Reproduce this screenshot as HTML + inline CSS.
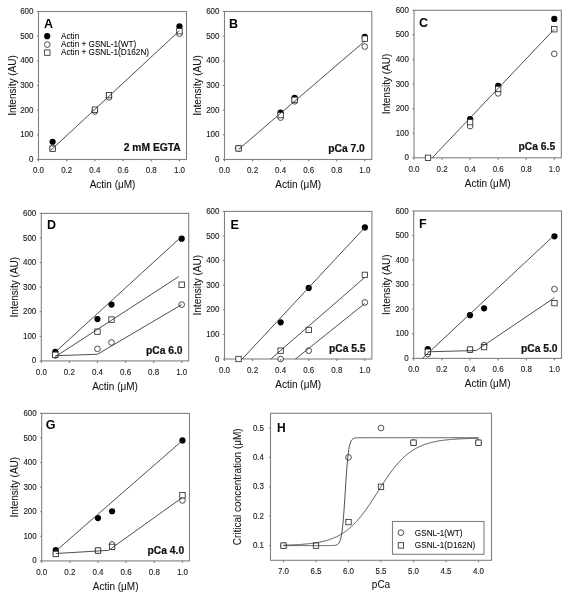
<!DOCTYPE html>
<html><head><meta charset="utf-8"><style>
html,body{margin:0;padding:0;background:#fff;}
svg{display:block;font-family:"Liberation Sans", sans-serif;will-change:transform;}
</style></head><body>
<svg width="569" height="600" viewBox="0 0 569 600">
<rect width="569" height="600" fill="#fff"/>
<rect x="38.5" y="11.5" width="148" height="148" fill="none" stroke="#808080" stroke-width="1.1"/>
<circle cx="52.6" cy="141.74" r="3.1" fill="#000"/>
<circle cx="94.88" cy="110.17" r="3.1" fill="#000"/>
<circle cx="108.98" cy="95.86" r="3.1" fill="#000"/>
<circle cx="179.45" cy="26.3" r="3.1" fill="#000"/>
<circle cx="52.6" cy="148.4" r="2.85" fill="#fff" stroke="#222" stroke-width="0.8"/>
<circle cx="94.88" cy="111.4" r="2.85" fill="#fff" stroke="#222" stroke-width="0.8"/>
<circle cx="108.98" cy="97.34" r="2.85" fill="#fff" stroke="#222" stroke-width="0.8"/>
<circle cx="179.45" cy="33.7" r="2.85" fill="#fff" stroke="#222" stroke-width="0.8"/>
<rect x="49.9" y="145.95" width="5.4" height="5.4" fill="#fff" stroke="#222" stroke-width="0.8"/>
<rect x="92.18" y="106.97" width="5.4" height="5.4" fill="#fff" stroke="#222" stroke-width="0.8"/>
<rect x="106.28" y="92.42" width="5.4" height="5.4" fill="#fff" stroke="#222" stroke-width="0.8"/>
<rect x="176.75" y="28.53" width="5.4" height="5.4" fill="#fff" stroke="#222" stroke-width="0.8"/>
<polyline points="50.48,150.62 179.45,30.74" fill="none" stroke="#3a3a3a" stroke-width="0.9"/>
<line x1="38.5" y1="159.5" x2="38.5" y2="161.5" stroke="#808080" stroke-width="1.1"/>
<text transform="translate(38.5 173.4) scale(0.94 1.0)" font-size="8.5" text-anchor="middle" fill="#1a1a1a" stroke="#1a1a1a" stroke-width="0.12">0.0</text>
<line x1="66.69" y1="159.5" x2="66.69" y2="161.5" stroke="#808080" stroke-width="1.1"/>
<text transform="translate(66.69 173.4) scale(0.94 1.0)" font-size="8.5" text-anchor="middle" fill="#1a1a1a" stroke="#1a1a1a" stroke-width="0.12">0.2</text>
<line x1="94.88" y1="159.5" x2="94.88" y2="161.5" stroke="#808080" stroke-width="1.1"/>
<text transform="translate(94.88 173.4) scale(0.94 1.0)" font-size="8.5" text-anchor="middle" fill="#1a1a1a" stroke="#1a1a1a" stroke-width="0.12">0.4</text>
<line x1="123.07" y1="159.5" x2="123.07" y2="161.5" stroke="#808080" stroke-width="1.1"/>
<text transform="translate(123.07 173.4) scale(0.94 1.0)" font-size="8.5" text-anchor="middle" fill="#1a1a1a" stroke="#1a1a1a" stroke-width="0.12">0.6</text>
<line x1="151.26" y1="159.5" x2="151.26" y2="161.5" stroke="#808080" stroke-width="1.1"/>
<text transform="translate(151.26 173.4) scale(0.94 1.0)" font-size="8.5" text-anchor="middle" fill="#1a1a1a" stroke="#1a1a1a" stroke-width="0.12">0.8</text>
<line x1="179.45" y1="159.5" x2="179.45" y2="161.5" stroke="#808080" stroke-width="1.1"/>
<text transform="translate(179.45 173.4) scale(0.94 1.0)" font-size="8.5" text-anchor="middle" fill="#1a1a1a" stroke="#1a1a1a" stroke-width="0.12">1.0</text>
<line x1="36.9" y1="159.5" x2="38.5" y2="159.5" stroke="#808080" stroke-width="1.1"/>
<text transform="translate(33.5 162.04) scale(0.94 1.0)" font-size="8.5" text-anchor="end" fill="#1a1a1a" stroke="#1a1a1a" stroke-width="0.12">0</text>
<line x1="36.9" y1="134.83" x2="38.5" y2="134.83" stroke="#808080" stroke-width="1.1"/>
<text transform="translate(33.5 137.38) scale(0.94 1.0)" font-size="8.5" text-anchor="end" fill="#1a1a1a" stroke="#1a1a1a" stroke-width="0.12">100</text>
<line x1="36.9" y1="110.17" x2="38.5" y2="110.17" stroke="#808080" stroke-width="1.1"/>
<text transform="translate(33.5 112.71) scale(0.94 1.0)" font-size="8.5" text-anchor="end" fill="#1a1a1a" stroke="#1a1a1a" stroke-width="0.12">200</text>
<line x1="36.9" y1="85.5" x2="38.5" y2="85.5" stroke="#808080" stroke-width="1.1"/>
<text transform="translate(33.5 88.04) scale(0.94 1.0)" font-size="8.5" text-anchor="end" fill="#1a1a1a" stroke="#1a1a1a" stroke-width="0.12">300</text>
<line x1="36.9" y1="60.83" x2="38.5" y2="60.83" stroke="#808080" stroke-width="1.1"/>
<text transform="translate(33.5 63.38) scale(0.94 1.0)" font-size="8.5" text-anchor="end" fill="#1a1a1a" stroke="#1a1a1a" stroke-width="0.12">400</text>
<line x1="36.9" y1="36.17" x2="38.5" y2="36.17" stroke="#808080" stroke-width="1.1"/>
<text transform="translate(33.5 38.71) scale(0.94 1.0)" font-size="8.5" text-anchor="end" fill="#1a1a1a" stroke="#1a1a1a" stroke-width="0.12">500</text>
<line x1="36.9" y1="11.5" x2="38.5" y2="11.5" stroke="#808080" stroke-width="1.1"/>
<text transform="translate(33.5 14.04) scale(0.94 1.0)" font-size="8.5" text-anchor="end" fill="#1a1a1a" stroke="#1a1a1a" stroke-width="0.12">600</text>
<text transform="translate(112.5 188.3)" font-size="10" text-anchor="middle" fill="#111" stroke="#111" stroke-width="0.05">Actin (&#956;M)</text>
<text transform="translate(15.5 85.5) rotate(-90)" font-size="10" text-anchor="middle" fill="#111" stroke="#111" stroke-width="0.05">Intensity (AU)</text>
<text transform="translate(44.1 28.3)" font-size="12.5" font-weight="bold" fill="#000">A</text>
<circle cx="47.2" cy="36.2" r="3.1" fill="#000"/>
<circle cx="47.3" cy="44.6" r="2.85" fill="#fff" stroke="#222" stroke-width="0.8"/>
<rect x="44.6" y="49.9" width="5.4" height="5.4" fill="#fff" stroke="#222" stroke-width="0.8"/>
<text x="61" y="38.9" font-size="8.2" fill="#111" stroke="#111" stroke-width="0.1">Actin</text>
<text x="61" y="47.1" font-size="8.2" fill="#111" stroke="#111" stroke-width="0.1">Actin + GSNL-1(WT)</text>
<text x="61" y="55.3" font-size="8.2" fill="#111" stroke="#111" stroke-width="0.1">Actin + GSNL-1(D162N)</text>
<text transform="translate(180.8 150.9)" font-size="10.3" text-anchor="end" font-weight="bold" fill="#111" stroke="#111" stroke-width="0.2">2 mM EGTA</text>
<rect x="224.5" y="11.5" width="147.3" height="148" fill="none" stroke="#808080" stroke-width="1.1"/>
<circle cx="238.53" cy="148.15" r="3.1" fill="#000"/>
<circle cx="280.61" cy="112.63" r="3.1" fill="#000"/>
<circle cx="294.64" cy="97.83" r="3.1" fill="#000"/>
<circle cx="364.79" cy="36.91" r="3.1" fill="#000"/>
<circle cx="238.53" cy="148.4" r="2.85" fill="#fff" stroke="#222" stroke-width="0.8"/>
<circle cx="280.61" cy="117.57" r="2.85" fill="#fff" stroke="#222" stroke-width="0.8"/>
<circle cx="294.64" cy="101.29" r="2.85" fill="#fff" stroke="#222" stroke-width="0.8"/>
<circle cx="364.79" cy="46.53" r="2.85" fill="#fff" stroke="#222" stroke-width="0.8"/>
<rect x="235.83" y="145.7" width="5.4" height="5.4" fill="#fff" stroke="#222" stroke-width="0.8"/>
<rect x="277.91" y="112.4" width="5.4" height="5.4" fill="#fff" stroke="#222" stroke-width="0.8"/>
<rect x="291.94" y="97.11" width="5.4" height="5.4" fill="#fff" stroke="#222" stroke-width="0.8"/>
<rect x="362.09" y="35.93" width="5.4" height="5.4" fill="#fff" stroke="#222" stroke-width="0.8"/>
<polyline points="238.53,149.39 364.79,41.1" fill="none" stroke="#3a3a3a" stroke-width="0.9"/>
<line x1="224.5" y1="159.5" x2="224.5" y2="161.5" stroke="#808080" stroke-width="1.1"/>
<text transform="translate(224.5 173.4) scale(0.94 1.0)" font-size="8.5" text-anchor="middle" fill="#1a1a1a" stroke="#1a1a1a" stroke-width="0.12">0.0</text>
<line x1="252.56" y1="159.5" x2="252.56" y2="161.5" stroke="#808080" stroke-width="1.1"/>
<text transform="translate(252.56 173.4) scale(0.94 1.0)" font-size="8.5" text-anchor="middle" fill="#1a1a1a" stroke="#1a1a1a" stroke-width="0.12">0.2</text>
<line x1="280.61" y1="159.5" x2="280.61" y2="161.5" stroke="#808080" stroke-width="1.1"/>
<text transform="translate(280.61 173.4) scale(0.94 1.0)" font-size="8.5" text-anchor="middle" fill="#1a1a1a" stroke="#1a1a1a" stroke-width="0.12">0.4</text>
<line x1="308.67" y1="159.5" x2="308.67" y2="161.5" stroke="#808080" stroke-width="1.1"/>
<text transform="translate(308.67 173.4) scale(0.94 1.0)" font-size="8.5" text-anchor="middle" fill="#1a1a1a" stroke="#1a1a1a" stroke-width="0.12">0.6</text>
<line x1="336.73" y1="159.5" x2="336.73" y2="161.5" stroke="#808080" stroke-width="1.1"/>
<text transform="translate(336.73 173.4) scale(0.94 1.0)" font-size="8.5" text-anchor="middle" fill="#1a1a1a" stroke="#1a1a1a" stroke-width="0.12">0.8</text>
<line x1="364.79" y1="159.5" x2="364.79" y2="161.5" stroke="#808080" stroke-width="1.1"/>
<text transform="translate(364.79 173.4) scale(0.94 1.0)" font-size="8.5" text-anchor="middle" fill="#1a1a1a" stroke="#1a1a1a" stroke-width="0.12">1.0</text>
<line x1="222.9" y1="159.5" x2="224.5" y2="159.5" stroke="#808080" stroke-width="1.1"/>
<text transform="translate(219.5 162.04) scale(0.94 1.0)" font-size="8.5" text-anchor="end" fill="#1a1a1a" stroke="#1a1a1a" stroke-width="0.12">0</text>
<line x1="222.9" y1="134.83" x2="224.5" y2="134.83" stroke="#808080" stroke-width="1.1"/>
<text transform="translate(219.5 137.38) scale(0.94 1.0)" font-size="8.5" text-anchor="end" fill="#1a1a1a" stroke="#1a1a1a" stroke-width="0.12">100</text>
<line x1="222.9" y1="110.17" x2="224.5" y2="110.17" stroke="#808080" stroke-width="1.1"/>
<text transform="translate(219.5 112.71) scale(0.94 1.0)" font-size="8.5" text-anchor="end" fill="#1a1a1a" stroke="#1a1a1a" stroke-width="0.12">200</text>
<line x1="222.9" y1="85.5" x2="224.5" y2="85.5" stroke="#808080" stroke-width="1.1"/>
<text transform="translate(219.5 88.04) scale(0.94 1.0)" font-size="8.5" text-anchor="end" fill="#1a1a1a" stroke="#1a1a1a" stroke-width="0.12">300</text>
<line x1="222.9" y1="60.83" x2="224.5" y2="60.83" stroke="#808080" stroke-width="1.1"/>
<text transform="translate(219.5 63.38) scale(0.94 1.0)" font-size="8.5" text-anchor="end" fill="#1a1a1a" stroke="#1a1a1a" stroke-width="0.12">400</text>
<line x1="222.9" y1="36.17" x2="224.5" y2="36.17" stroke="#808080" stroke-width="1.1"/>
<text transform="translate(219.5 38.71) scale(0.94 1.0)" font-size="8.5" text-anchor="end" fill="#1a1a1a" stroke="#1a1a1a" stroke-width="0.12">500</text>
<line x1="222.9" y1="11.5" x2="224.5" y2="11.5" stroke="#808080" stroke-width="1.1"/>
<text transform="translate(219.5 14.04) scale(0.94 1.0)" font-size="8.5" text-anchor="end" fill="#1a1a1a" stroke="#1a1a1a" stroke-width="0.12">600</text>
<text transform="translate(298.15 188.3)" font-size="10" text-anchor="middle" fill="#111" stroke="#111" stroke-width="0.05">Actin (&#956;M)</text>
<text transform="translate(200.7 85.5) rotate(-90)" font-size="10" text-anchor="middle" fill="#111" stroke="#111" stroke-width="0.05">Intensity (AU)</text>
<text transform="translate(229.1 27.6)" font-size="12.5" font-weight="bold" fill="#000">B</text>
<text transform="translate(364.8 152.4)" font-size="10.3" text-anchor="end" font-weight="bold" fill="#111" stroke="#111" stroke-width="0.2">pCa 7.0</text>
<rect x="414" y="10.3" width="147.3" height="147.5" fill="none" stroke="#808080" stroke-width="1.1"/>
<circle cx="470.11" cy="119.2" r="3.1" fill="#000"/>
<circle cx="498.17" cy="85.77" r="3.1" fill="#000"/>
<circle cx="554.29" cy="18.9" r="3.1" fill="#000"/>
<circle cx="470.11" cy="126.09" r="2.85" fill="#fff" stroke="#222" stroke-width="0.8"/>
<circle cx="498.17" cy="93.39" r="2.85" fill="#fff" stroke="#222" stroke-width="0.8"/>
<circle cx="554.29" cy="53.81" r="2.85" fill="#fff" stroke="#222" stroke-width="0.8"/>
<rect x="425.33" y="155.1" width="5.4" height="5.4" fill="#fff" stroke="#222" stroke-width="0.8"/>
<rect x="467.41" y="119.45" width="5.4" height="5.4" fill="#fff" stroke="#222" stroke-width="0.8"/>
<rect x="495.47" y="86.27" width="5.4" height="5.4" fill="#fff" stroke="#222" stroke-width="0.8"/>
<rect x="551.59" y="26.53" width="5.4" height="5.4" fill="#fff" stroke="#222" stroke-width="0.8"/>
<polyline points="432.24,157.8 554.29,29.23" fill="none" stroke="#3a3a3a" stroke-width="0.9"/>
<line x1="414" y1="157.8" x2="414" y2="159.8" stroke="#808080" stroke-width="1.1"/>
<text transform="translate(414 171.7) scale(0.94 1.0)" font-size="8.5" text-anchor="middle" fill="#1a1a1a" stroke="#1a1a1a" stroke-width="0.12">0.0</text>
<line x1="442.06" y1="157.8" x2="442.06" y2="159.8" stroke="#808080" stroke-width="1.1"/>
<text transform="translate(442.06 171.7) scale(0.94 1.0)" font-size="8.5" text-anchor="middle" fill="#1a1a1a" stroke="#1a1a1a" stroke-width="0.12">0.2</text>
<line x1="470.11" y1="157.8" x2="470.11" y2="159.8" stroke="#808080" stroke-width="1.1"/>
<text transform="translate(470.11 171.7) scale(0.94 1.0)" font-size="8.5" text-anchor="middle" fill="#1a1a1a" stroke="#1a1a1a" stroke-width="0.12">0.4</text>
<line x1="498.17" y1="157.8" x2="498.17" y2="159.8" stroke="#808080" stroke-width="1.1"/>
<text transform="translate(498.17 171.7) scale(0.94 1.0)" font-size="8.5" text-anchor="middle" fill="#1a1a1a" stroke="#1a1a1a" stroke-width="0.12">0.6</text>
<line x1="526.23" y1="157.8" x2="526.23" y2="159.8" stroke="#808080" stroke-width="1.1"/>
<text transform="translate(526.23 171.7) scale(0.94 1.0)" font-size="8.5" text-anchor="middle" fill="#1a1a1a" stroke="#1a1a1a" stroke-width="0.12">0.8</text>
<line x1="554.29" y1="157.8" x2="554.29" y2="159.8" stroke="#808080" stroke-width="1.1"/>
<text transform="translate(554.29 171.7) scale(0.94 1.0)" font-size="8.5" text-anchor="middle" fill="#1a1a1a" stroke="#1a1a1a" stroke-width="0.12">1.0</text>
<line x1="412.4" y1="157.8" x2="414" y2="157.8" stroke="#808080" stroke-width="1.1"/>
<text transform="translate(409 160.34) scale(0.94 1.0)" font-size="8.5" text-anchor="end" fill="#1a1a1a" stroke="#1a1a1a" stroke-width="0.12">0</text>
<line x1="412.4" y1="133.22" x2="414" y2="133.22" stroke="#808080" stroke-width="1.1"/>
<text transform="translate(409 135.76) scale(0.94 1.0)" font-size="8.5" text-anchor="end" fill="#1a1a1a" stroke="#1a1a1a" stroke-width="0.12">100</text>
<line x1="412.4" y1="108.63" x2="414" y2="108.63" stroke="#808080" stroke-width="1.1"/>
<text transform="translate(409 111.18) scale(0.94 1.0)" font-size="8.5" text-anchor="end" fill="#1a1a1a" stroke="#1a1a1a" stroke-width="0.12">200</text>
<line x1="412.4" y1="84.05" x2="414" y2="84.05" stroke="#808080" stroke-width="1.1"/>
<text transform="translate(409 86.59) scale(0.94 1.0)" font-size="8.5" text-anchor="end" fill="#1a1a1a" stroke="#1a1a1a" stroke-width="0.12">300</text>
<line x1="412.4" y1="59.47" x2="414" y2="59.47" stroke="#808080" stroke-width="1.1"/>
<text transform="translate(409 62.01) scale(0.94 1.0)" font-size="8.5" text-anchor="end" fill="#1a1a1a" stroke="#1a1a1a" stroke-width="0.12">400</text>
<line x1="412.4" y1="34.88" x2="414" y2="34.88" stroke="#808080" stroke-width="1.1"/>
<text transform="translate(409 37.43) scale(0.94 1.0)" font-size="8.5" text-anchor="end" fill="#1a1a1a" stroke="#1a1a1a" stroke-width="0.12">500</text>
<line x1="412.4" y1="10.3" x2="414" y2="10.3" stroke="#808080" stroke-width="1.1"/>
<text transform="translate(409 12.84) scale(0.94 1.0)" font-size="8.5" text-anchor="end" fill="#1a1a1a" stroke="#1a1a1a" stroke-width="0.12">600</text>
<text transform="translate(487.65 186.6)" font-size="10" text-anchor="middle" fill="#111" stroke="#111" stroke-width="0.05">Actin (&#956;M)</text>
<text transform="translate(389.5 84.05) rotate(-90)" font-size="10" text-anchor="middle" fill="#111" stroke="#111" stroke-width="0.05">Intensity (AU)</text>
<text transform="translate(419.1 27.4)" font-size="12.5" font-weight="bold" fill="#000">C</text>
<text transform="translate(555.2 149.9)" font-size="10.3" text-anchor="end" font-weight="bold" fill="#111" stroke="#111" stroke-width="0.2">pCa 6.5</text>
<rect x="41.3" y="213.4" width="147.4" height="147.5" fill="none" stroke="#808080" stroke-width="1.1"/>
<circle cx="55.34" cy="351.8" r="3.1" fill="#000"/>
<circle cx="97.45" cy="319.11" r="3.1" fill="#000"/>
<circle cx="111.49" cy="304.6" r="3.1" fill="#000"/>
<circle cx="181.68" cy="238.72" r="3.1" fill="#000"/>
<circle cx="55.34" cy="355.49" r="2.85" fill="#fff" stroke="#222" stroke-width="0.8"/>
<circle cx="97.45" cy="348.85" r="2.85" fill="#fff" stroke="#222" stroke-width="0.8"/>
<circle cx="111.49" cy="342.46" r="2.85" fill="#fff" stroke="#222" stroke-width="0.8"/>
<circle cx="181.68" cy="304.6" r="2.85" fill="#fff" stroke="#222" stroke-width="0.8"/>
<rect x="52.64" y="352.05" width="5.4" height="5.4" fill="#fff" stroke="#222" stroke-width="0.8"/>
<rect x="94.75" y="328.95" width="5.4" height="5.4" fill="#fff" stroke="#222" stroke-width="0.8"/>
<rect x="108.79" y="316.9" width="5.4" height="5.4" fill="#fff" stroke="#222" stroke-width="0.8"/>
<rect x="178.98" y="281.99" width="5.4" height="5.4" fill="#fff" stroke="#222" stroke-width="0.8"/>
<polyline points="55.34,352.05 181.68,236.51" fill="none" stroke="#3a3a3a" stroke-width="0.9"/>
<polyline points="55.34,356.72 178.73,276.58" fill="none" stroke="#3a3a3a" stroke-width="0.9"/>
<polyline points="55.34,355.74 97.45,354.26 181.68,304.6" fill="none" stroke="#3a3a3a" stroke-width="0.9"/>
<line x1="41.3" y1="360.9" x2="41.3" y2="362.9" stroke="#808080" stroke-width="1.1"/>
<text transform="translate(41.3 374.8) scale(0.94 1.0)" font-size="8.5" text-anchor="middle" fill="#1a1a1a" stroke="#1a1a1a" stroke-width="0.12">0.0</text>
<line x1="69.38" y1="360.9" x2="69.38" y2="362.9" stroke="#808080" stroke-width="1.1"/>
<text transform="translate(69.38 374.8) scale(0.94 1.0)" font-size="8.5" text-anchor="middle" fill="#1a1a1a" stroke="#1a1a1a" stroke-width="0.12">0.2</text>
<line x1="97.45" y1="360.9" x2="97.45" y2="362.9" stroke="#808080" stroke-width="1.1"/>
<text transform="translate(97.45 374.8) scale(0.94 1.0)" font-size="8.5" text-anchor="middle" fill="#1a1a1a" stroke="#1a1a1a" stroke-width="0.12">0.4</text>
<line x1="125.53" y1="360.9" x2="125.53" y2="362.9" stroke="#808080" stroke-width="1.1"/>
<text transform="translate(125.53 374.8) scale(0.94 1.0)" font-size="8.5" text-anchor="middle" fill="#1a1a1a" stroke="#1a1a1a" stroke-width="0.12">0.6</text>
<line x1="153.6" y1="360.9" x2="153.6" y2="362.9" stroke="#808080" stroke-width="1.1"/>
<text transform="translate(153.6 374.8) scale(0.94 1.0)" font-size="8.5" text-anchor="middle" fill="#1a1a1a" stroke="#1a1a1a" stroke-width="0.12">0.8</text>
<line x1="181.68" y1="360.9" x2="181.68" y2="362.9" stroke="#808080" stroke-width="1.1"/>
<text transform="translate(181.68 374.8) scale(0.94 1.0)" font-size="8.5" text-anchor="middle" fill="#1a1a1a" stroke="#1a1a1a" stroke-width="0.12">1.0</text>
<line x1="39.7" y1="360.9" x2="41.3" y2="360.9" stroke="#808080" stroke-width="1.1"/>
<text transform="translate(36.3 363.44) scale(0.94 1.0)" font-size="8.5" text-anchor="end" fill="#1a1a1a" stroke="#1a1a1a" stroke-width="0.12">0</text>
<line x1="39.7" y1="336.32" x2="41.3" y2="336.32" stroke="#808080" stroke-width="1.1"/>
<text transform="translate(36.3 338.86) scale(0.94 1.0)" font-size="8.5" text-anchor="end" fill="#1a1a1a" stroke="#1a1a1a" stroke-width="0.12">100</text>
<line x1="39.7" y1="311.73" x2="41.3" y2="311.73" stroke="#808080" stroke-width="1.1"/>
<text transform="translate(36.3 314.28) scale(0.94 1.0)" font-size="8.5" text-anchor="end" fill="#1a1a1a" stroke="#1a1a1a" stroke-width="0.12">200</text>
<line x1="39.7" y1="287.15" x2="41.3" y2="287.15" stroke="#808080" stroke-width="1.1"/>
<text transform="translate(36.3 289.69) scale(0.94 1.0)" font-size="8.5" text-anchor="end" fill="#1a1a1a" stroke="#1a1a1a" stroke-width="0.12">300</text>
<line x1="39.7" y1="262.57" x2="41.3" y2="262.57" stroke="#808080" stroke-width="1.1"/>
<text transform="translate(36.3 265.11) scale(0.94 1.0)" font-size="8.5" text-anchor="end" fill="#1a1a1a" stroke="#1a1a1a" stroke-width="0.12">400</text>
<line x1="39.7" y1="237.98" x2="41.3" y2="237.98" stroke="#808080" stroke-width="1.1"/>
<text transform="translate(36.3 240.53) scale(0.94 1.0)" font-size="8.5" text-anchor="end" fill="#1a1a1a" stroke="#1a1a1a" stroke-width="0.12">500</text>
<line x1="39.7" y1="213.4" x2="41.3" y2="213.4" stroke="#808080" stroke-width="1.1"/>
<text transform="translate(36.3 215.94) scale(0.94 1.0)" font-size="8.5" text-anchor="end" fill="#1a1a1a" stroke="#1a1a1a" stroke-width="0.12">600</text>
<text transform="translate(115 389.7)" font-size="10" text-anchor="middle" fill="#111" stroke="#111" stroke-width="0.05">Actin (&#956;M)</text>
<text transform="translate(17.6 287.15) rotate(-90)" font-size="10" text-anchor="middle" fill="#111" stroke="#111" stroke-width="0.05">Intensity (AU)</text>
<text transform="translate(46.9 228.8)" font-size="12.5" font-weight="bold" fill="#000">D</text>
<text transform="translate(182.6 353.9)" font-size="10.3" text-anchor="end" font-weight="bold" fill="#111" stroke="#111" stroke-width="0.2">pCa 6.0</text>
<rect x="224.5" y="211.4" width="147.4" height="147.6" fill="none" stroke="#808080" stroke-width="1.1"/>
<circle cx="280.65" cy="322.35" r="3.1" fill="#000"/>
<circle cx="308.73" cy="287.91" r="3.1" fill="#000"/>
<circle cx="364.88" cy="227.39" r="3.1" fill="#000"/>
<circle cx="280.65" cy="359" r="2.85" fill="#fff" stroke="#222" stroke-width="0.8"/>
<circle cx="308.73" cy="350.64" r="2.85" fill="#fff" stroke="#222" stroke-width="0.8"/>
<circle cx="364.88" cy="302.42" r="2.85" fill="#fff" stroke="#222" stroke-width="0.8"/>
<rect x="235.84" y="356.3" width="5.4" height="5.4" fill="#fff" stroke="#222" stroke-width="0.8"/>
<rect x="277.95" y="347.94" width="5.4" height="5.4" fill="#fff" stroke="#222" stroke-width="0.8"/>
<rect x="306.03" y="327.27" width="5.4" height="5.4" fill="#fff" stroke="#222" stroke-width="0.8"/>
<rect x="362.18" y="272.17" width="5.4" height="5.4" fill="#fff" stroke="#222" stroke-width="0.8"/>
<polyline points="242.19,359 364.88,227.39" fill="none" stroke="#3a3a3a" stroke-width="0.9"/>
<polyline points="270.83,359 364.88,277.33" fill="none" stroke="#3a3a3a" stroke-width="0.9"/>
<polyline points="295.53,359 364.88,303.4" fill="none" stroke="#3a3a3a" stroke-width="0.9"/>
<line x1="224.5" y1="359" x2="224.5" y2="361" stroke="#808080" stroke-width="1.1"/>
<text transform="translate(224.5 372.9) scale(0.94 1.0)" font-size="8.5" text-anchor="middle" fill="#1a1a1a" stroke="#1a1a1a" stroke-width="0.12">0.0</text>
<line x1="252.58" y1="359" x2="252.58" y2="361" stroke="#808080" stroke-width="1.1"/>
<text transform="translate(252.58 372.9) scale(0.94 1.0)" font-size="8.5" text-anchor="middle" fill="#1a1a1a" stroke="#1a1a1a" stroke-width="0.12">0.2</text>
<line x1="280.65" y1="359" x2="280.65" y2="361" stroke="#808080" stroke-width="1.1"/>
<text transform="translate(280.65 372.9) scale(0.94 1.0)" font-size="8.5" text-anchor="middle" fill="#1a1a1a" stroke="#1a1a1a" stroke-width="0.12">0.4</text>
<line x1="308.73" y1="359" x2="308.73" y2="361" stroke="#808080" stroke-width="1.1"/>
<text transform="translate(308.73 372.9) scale(0.94 1.0)" font-size="8.5" text-anchor="middle" fill="#1a1a1a" stroke="#1a1a1a" stroke-width="0.12">0.6</text>
<line x1="336.8" y1="359" x2="336.8" y2="361" stroke="#808080" stroke-width="1.1"/>
<text transform="translate(336.8 372.9) scale(0.94 1.0)" font-size="8.5" text-anchor="middle" fill="#1a1a1a" stroke="#1a1a1a" stroke-width="0.12">0.8</text>
<line x1="364.88" y1="359" x2="364.88" y2="361" stroke="#808080" stroke-width="1.1"/>
<text transform="translate(364.88 372.9) scale(0.94 1.0)" font-size="8.5" text-anchor="middle" fill="#1a1a1a" stroke="#1a1a1a" stroke-width="0.12">1.0</text>
<line x1="222.9" y1="359" x2="224.5" y2="359" stroke="#808080" stroke-width="1.1"/>
<text transform="translate(219.5 361.54) scale(0.94 1.0)" font-size="8.5" text-anchor="end" fill="#1a1a1a" stroke="#1a1a1a" stroke-width="0.12">0</text>
<line x1="222.9" y1="334.4" x2="224.5" y2="334.4" stroke="#808080" stroke-width="1.1"/>
<text transform="translate(219.5 336.94) scale(0.94 1.0)" font-size="8.5" text-anchor="end" fill="#1a1a1a" stroke="#1a1a1a" stroke-width="0.12">100</text>
<line x1="222.9" y1="309.8" x2="224.5" y2="309.8" stroke="#808080" stroke-width="1.1"/>
<text transform="translate(219.5 312.34) scale(0.94 1.0)" font-size="8.5" text-anchor="end" fill="#1a1a1a" stroke="#1a1a1a" stroke-width="0.12">200</text>
<line x1="222.9" y1="285.2" x2="224.5" y2="285.2" stroke="#808080" stroke-width="1.1"/>
<text transform="translate(219.5 287.74) scale(0.94 1.0)" font-size="8.5" text-anchor="end" fill="#1a1a1a" stroke="#1a1a1a" stroke-width="0.12">300</text>
<line x1="222.9" y1="260.6" x2="224.5" y2="260.6" stroke="#808080" stroke-width="1.1"/>
<text transform="translate(219.5 263.14) scale(0.94 1.0)" font-size="8.5" text-anchor="end" fill="#1a1a1a" stroke="#1a1a1a" stroke-width="0.12">400</text>
<line x1="222.9" y1="236" x2="224.5" y2="236" stroke="#808080" stroke-width="1.1"/>
<text transform="translate(219.5 238.54) scale(0.94 1.0)" font-size="8.5" text-anchor="end" fill="#1a1a1a" stroke="#1a1a1a" stroke-width="0.12">500</text>
<line x1="222.9" y1="211.4" x2="224.5" y2="211.4" stroke="#808080" stroke-width="1.1"/>
<text transform="translate(219.5 213.94) scale(0.94 1.0)" font-size="8.5" text-anchor="end" fill="#1a1a1a" stroke="#1a1a1a" stroke-width="0.12">600</text>
<text transform="translate(298.2 387.8)" font-size="10" text-anchor="middle" fill="#111" stroke="#111" stroke-width="0.05">Actin (&#956;M)</text>
<text transform="translate(200.8 285.2) rotate(-90)" font-size="10" text-anchor="middle" fill="#111" stroke="#111" stroke-width="0.05">Intensity (AU)</text>
<text transform="translate(230.6 228.5)" font-size="12.5" font-weight="bold" fill="#000">E</text>
<text transform="translate(365.6 351.8)" font-size="10.3" text-anchor="end" font-weight="bold" fill="#111" stroke="#111" stroke-width="0.2">pCa 5.5</text>
<rect x="413.7" y="211" width="147.8" height="147.4" fill="none" stroke="#808080" stroke-width="1.1"/>
<circle cx="427.78" cy="349.06" r="3.1" fill="#000"/>
<circle cx="470" cy="315.16" r="3.1" fill="#000"/>
<circle cx="484.08" cy="308.28" r="3.1" fill="#000"/>
<circle cx="554.46" cy="236.3" r="3.1" fill="#000"/>
<circle cx="427.78" cy="353.98" r="2.85" fill="#fff" stroke="#222" stroke-width="0.8"/>
<circle cx="470" cy="349.8" r="2.85" fill="#fff" stroke="#222" stroke-width="0.8"/>
<circle cx="484.08" cy="345.13" r="2.85" fill="#fff" stroke="#222" stroke-width="0.8"/>
<circle cx="554.46" cy="289.12" r="2.85" fill="#fff" stroke="#222" stroke-width="0.8"/>
<rect x="425.08" y="349.07" width="5.4" height="5.4" fill="#fff" stroke="#222" stroke-width="0.8"/>
<rect x="467.3" y="346.86" width="5.4" height="5.4" fill="#fff" stroke="#222" stroke-width="0.8"/>
<rect x="481.38" y="344.4" width="5.4" height="5.4" fill="#fff" stroke="#222" stroke-width="0.8"/>
<rect x="551.76" y="300.43" width="5.4" height="5.4" fill="#fff" stroke="#222" stroke-width="0.8"/>
<polyline points="422.43,358.4 554.46,235.08" fill="none" stroke="#3a3a3a" stroke-width="0.9"/>
<polyline points="427.78,351.77 476.2,350.54 554.46,297.72" fill="none" stroke="#3a3a3a" stroke-width="0.9"/>
<line x1="413.7" y1="358.4" x2="413.7" y2="360.4" stroke="#808080" stroke-width="1.1"/>
<text transform="translate(413.7 372.3) scale(0.94 1.0)" font-size="8.5" text-anchor="middle" fill="#1a1a1a" stroke="#1a1a1a" stroke-width="0.12">0.0</text>
<line x1="441.85" y1="358.4" x2="441.85" y2="360.4" stroke="#808080" stroke-width="1.1"/>
<text transform="translate(441.85 372.3) scale(0.94 1.0)" font-size="8.5" text-anchor="middle" fill="#1a1a1a" stroke="#1a1a1a" stroke-width="0.12">0.2</text>
<line x1="470" y1="358.4" x2="470" y2="360.4" stroke="#808080" stroke-width="1.1"/>
<text transform="translate(470 372.3) scale(0.94 1.0)" font-size="8.5" text-anchor="middle" fill="#1a1a1a" stroke="#1a1a1a" stroke-width="0.12">0.4</text>
<line x1="498.16" y1="358.4" x2="498.16" y2="360.4" stroke="#808080" stroke-width="1.1"/>
<text transform="translate(498.16 372.3) scale(0.94 1.0)" font-size="8.5" text-anchor="middle" fill="#1a1a1a" stroke="#1a1a1a" stroke-width="0.12">0.6</text>
<line x1="526.31" y1="358.4" x2="526.31" y2="360.4" stroke="#808080" stroke-width="1.1"/>
<text transform="translate(526.31 372.3) scale(0.94 1.0)" font-size="8.5" text-anchor="middle" fill="#1a1a1a" stroke="#1a1a1a" stroke-width="0.12">0.8</text>
<line x1="554.46" y1="358.4" x2="554.46" y2="360.4" stroke="#808080" stroke-width="1.1"/>
<text transform="translate(554.46 372.3) scale(0.94 1.0)" font-size="8.5" text-anchor="middle" fill="#1a1a1a" stroke="#1a1a1a" stroke-width="0.12">1.0</text>
<line x1="412.1" y1="358.4" x2="413.7" y2="358.4" stroke="#808080" stroke-width="1.1"/>
<text transform="translate(408.7 360.94) scale(0.94 1.0)" font-size="8.5" text-anchor="end" fill="#1a1a1a" stroke="#1a1a1a" stroke-width="0.12">0</text>
<line x1="412.1" y1="333.83" x2="413.7" y2="333.83" stroke="#808080" stroke-width="1.1"/>
<text transform="translate(408.7 336.38) scale(0.94 1.0)" font-size="8.5" text-anchor="end" fill="#1a1a1a" stroke="#1a1a1a" stroke-width="0.12">100</text>
<line x1="412.1" y1="309.27" x2="413.7" y2="309.27" stroke="#808080" stroke-width="1.1"/>
<text transform="translate(408.7 311.81) scale(0.94 1.0)" font-size="8.5" text-anchor="end" fill="#1a1a1a" stroke="#1a1a1a" stroke-width="0.12">200</text>
<line x1="412.1" y1="284.7" x2="413.7" y2="284.7" stroke="#808080" stroke-width="1.1"/>
<text transform="translate(408.7 287.24) scale(0.94 1.0)" font-size="8.5" text-anchor="end" fill="#1a1a1a" stroke="#1a1a1a" stroke-width="0.12">300</text>
<line x1="412.1" y1="260.13" x2="413.7" y2="260.13" stroke="#808080" stroke-width="1.1"/>
<text transform="translate(408.7 262.68) scale(0.94 1.0)" font-size="8.5" text-anchor="end" fill="#1a1a1a" stroke="#1a1a1a" stroke-width="0.12">400</text>
<line x1="412.1" y1="235.57" x2="413.7" y2="235.57" stroke="#808080" stroke-width="1.1"/>
<text transform="translate(408.7 238.11) scale(0.94 1.0)" font-size="8.5" text-anchor="end" fill="#1a1a1a" stroke="#1a1a1a" stroke-width="0.12">500</text>
<line x1="412.1" y1="211" x2="413.7" y2="211" stroke="#808080" stroke-width="1.1"/>
<text transform="translate(408.7 213.54) scale(0.94 1.0)" font-size="8.5" text-anchor="end" fill="#1a1a1a" stroke="#1a1a1a" stroke-width="0.12">600</text>
<text transform="translate(487.6 387.2)" font-size="10" text-anchor="middle" fill="#111" stroke="#111" stroke-width="0.05">Actin (&#956;M)</text>
<text transform="translate(390 284.7) rotate(-90)" font-size="10" text-anchor="middle" fill="#111" stroke="#111" stroke-width="0.05">Intensity (AU)</text>
<text transform="translate(419 227.8)" font-size="12.5" font-weight="bold" fill="#000">F</text>
<text transform="translate(557.6 351.6)" font-size="10.3" text-anchor="end" font-weight="bold" fill="#111" stroke="#111" stroke-width="0.2">pCa 5.0</text>
<rect x="41.7" y="413.4" width="147.8" height="147.5" fill="none" stroke="#808080" stroke-width="1.1"/>
<circle cx="55.78" cy="550.08" r="3.1" fill="#000"/>
<circle cx="98" cy="518.12" r="3.1" fill="#000"/>
<circle cx="112.08" cy="511.24" r="3.1" fill="#000"/>
<circle cx="182.46" cy="440.44" r="3.1" fill="#000"/>
<circle cx="55.78" cy="553.52" r="2.85" fill="#fff" stroke="#222" stroke-width="0.8"/>
<circle cx="98" cy="550.57" r="2.85" fill="#fff" stroke="#222" stroke-width="0.8"/>
<circle cx="112.08" cy="544.43" r="2.85" fill="#fff" stroke="#222" stroke-width="0.8"/>
<circle cx="182.46" cy="500.42" r="2.85" fill="#fff" stroke="#222" stroke-width="0.8"/>
<rect x="53.08" y="551.32" width="5.4" height="5.4" fill="#fff" stroke="#222" stroke-width="0.8"/>
<rect x="95.3" y="547.87" width="5.4" height="5.4" fill="#fff" stroke="#222" stroke-width="0.8"/>
<rect x="109.38" y="544.19" width="5.4" height="5.4" fill="#fff" stroke="#222" stroke-width="0.8"/>
<rect x="179.76" y="492.56" width="5.4" height="5.4" fill="#fff" stroke="#222" stroke-width="0.8"/>
<polyline points="55.78,551.07 182.46,440.44" fill="none" stroke="#3a3a3a" stroke-width="0.9"/>
<polyline points="55.78,553.52 108.56,550.33 182.46,497.47" fill="none" stroke="#3a3a3a" stroke-width="0.9"/>
<line x1="41.7" y1="560.9" x2="41.7" y2="562.9" stroke="#808080" stroke-width="1.1"/>
<text transform="translate(41.7 574.8) scale(0.94 1.0)" font-size="8.5" text-anchor="middle" fill="#1a1a1a" stroke="#1a1a1a" stroke-width="0.12">0.0</text>
<line x1="69.85" y1="560.9" x2="69.85" y2="562.9" stroke="#808080" stroke-width="1.1"/>
<text transform="translate(69.85 574.8) scale(0.94 1.0)" font-size="8.5" text-anchor="middle" fill="#1a1a1a" stroke="#1a1a1a" stroke-width="0.12">0.2</text>
<line x1="98" y1="560.9" x2="98" y2="562.9" stroke="#808080" stroke-width="1.1"/>
<text transform="translate(98 574.8) scale(0.94 1.0)" font-size="8.5" text-anchor="middle" fill="#1a1a1a" stroke="#1a1a1a" stroke-width="0.12">0.4</text>
<line x1="126.16" y1="560.9" x2="126.16" y2="562.9" stroke="#808080" stroke-width="1.1"/>
<text transform="translate(126.16 574.8) scale(0.94 1.0)" font-size="8.5" text-anchor="middle" fill="#1a1a1a" stroke="#1a1a1a" stroke-width="0.12">0.6</text>
<line x1="154.31" y1="560.9" x2="154.31" y2="562.9" stroke="#808080" stroke-width="1.1"/>
<text transform="translate(154.31 574.8) scale(0.94 1.0)" font-size="8.5" text-anchor="middle" fill="#1a1a1a" stroke="#1a1a1a" stroke-width="0.12">0.8</text>
<line x1="182.46" y1="560.9" x2="182.46" y2="562.9" stroke="#808080" stroke-width="1.1"/>
<text transform="translate(182.46 574.8) scale(0.94 1.0)" font-size="8.5" text-anchor="middle" fill="#1a1a1a" stroke="#1a1a1a" stroke-width="0.12">1.0</text>
<line x1="40.1" y1="560.9" x2="41.7" y2="560.9" stroke="#808080" stroke-width="1.1"/>
<text transform="translate(36.7 563.44) scale(0.94 1.0)" font-size="8.5" text-anchor="end" fill="#1a1a1a" stroke="#1a1a1a" stroke-width="0.12">0</text>
<line x1="40.1" y1="536.32" x2="41.7" y2="536.32" stroke="#808080" stroke-width="1.1"/>
<text transform="translate(36.7 538.86) scale(0.94 1.0)" font-size="8.5" text-anchor="end" fill="#1a1a1a" stroke="#1a1a1a" stroke-width="0.12">100</text>
<line x1="40.1" y1="511.73" x2="41.7" y2="511.73" stroke="#808080" stroke-width="1.1"/>
<text transform="translate(36.7 514.28) scale(0.94 1.0)" font-size="8.5" text-anchor="end" fill="#1a1a1a" stroke="#1a1a1a" stroke-width="0.12">200</text>
<line x1="40.1" y1="487.15" x2="41.7" y2="487.15" stroke="#808080" stroke-width="1.1"/>
<text transform="translate(36.7 489.69) scale(0.94 1.0)" font-size="8.5" text-anchor="end" fill="#1a1a1a" stroke="#1a1a1a" stroke-width="0.12">300</text>
<line x1="40.1" y1="462.57" x2="41.7" y2="462.57" stroke="#808080" stroke-width="1.1"/>
<text transform="translate(36.7 465.11) scale(0.94 1.0)" font-size="8.5" text-anchor="end" fill="#1a1a1a" stroke="#1a1a1a" stroke-width="0.12">400</text>
<line x1="40.1" y1="437.98" x2="41.7" y2="437.98" stroke="#808080" stroke-width="1.1"/>
<text transform="translate(36.7 440.53) scale(0.94 1.0)" font-size="8.5" text-anchor="end" fill="#1a1a1a" stroke="#1a1a1a" stroke-width="0.12">500</text>
<line x1="40.1" y1="413.4" x2="41.7" y2="413.4" stroke="#808080" stroke-width="1.1"/>
<text transform="translate(36.7 415.94) scale(0.94 1.0)" font-size="8.5" text-anchor="end" fill="#1a1a1a" stroke="#1a1a1a" stroke-width="0.12">600</text>
<text transform="translate(115.6 589.7)" font-size="10" text-anchor="middle" fill="#111" stroke="#111" stroke-width="0.05">Actin (&#956;M)</text>
<text transform="translate(17.9 487.15) rotate(-90)" font-size="10" text-anchor="middle" fill="#111" stroke="#111" stroke-width="0.05">Intensity (AU)</text>
<text transform="translate(45.8 428.6)" font-size="12.5" font-weight="bold" fill="#000">G</text>
<text transform="translate(184.2 553.9)" font-size="10.3" text-anchor="end" font-weight="bold" fill="#111" stroke="#111" stroke-width="0.2">pCa 4.0</text>
<rect x="270.5" y="413.3" width="221" height="147" fill="none" stroke="#808080" stroke-width="1.1"/>
<circle cx="283.5" cy="545.6" r="2.85" fill="#fff" stroke="#222" stroke-width="0.8"/>
<circle cx="348.5" cy="457.4" r="2.85" fill="#fff" stroke="#222" stroke-width="0.8"/>
<circle cx="381" cy="428" r="2.85" fill="#fff" stroke="#222" stroke-width="0.8"/>
<circle cx="413.5" cy="442.7" r="2.85" fill="#fff" stroke="#222" stroke-width="0.8"/>
<circle cx="478.5" cy="442.7" r="2.85" fill="#fff" stroke="#222" stroke-width="0.8"/>
<rect x="280.8" y="542.9" width="5.4" height="5.4" fill="#fff" stroke="#222" stroke-width="0.8"/>
<rect x="313.3" y="542.9" width="5.4" height="5.4" fill="#fff" stroke="#222" stroke-width="0.8"/>
<rect x="345.8" y="519.38" width="5.4" height="5.4" fill="#fff" stroke="#222" stroke-width="0.8"/>
<rect x="378.3" y="484.1" width="5.4" height="5.4" fill="#fff" stroke="#222" stroke-width="0.8"/>
<rect x="410.8" y="440" width="5.4" height="5.4" fill="#fff" stroke="#222" stroke-width="0.8"/>
<rect x="475.8" y="440" width="5.4" height="5.4" fill="#fff" stroke="#222" stroke-width="0.8"/>
<polyline points="283.5,545.6 283.99,545.6 284.47,545.6 284.96,545.6 285.45,545.6 285.94,545.6 286.43,545.6 286.91,545.6 287.4,545.6 287.89,545.6 288.38,545.6 288.86,545.6 289.35,545.6 289.84,545.6 290.33,545.6 290.81,545.6 291.3,545.6 291.79,545.6 292.27,545.6 292.76,545.6 293.25,545.6 293.74,545.6 294.23,545.6 294.71,545.6 295.2,545.6 295.69,545.6 296.18,545.6 296.66,545.6 297.15,545.6 297.64,545.6 298.12,545.6 298.61,545.6 299.1,545.6 299.59,545.6 300.07,545.6 300.56,545.6 301.05,545.6 301.54,545.6 302.03,545.6 302.51,545.6 303,545.6 303.49,545.6 303.98,545.6 304.46,545.6 304.95,545.6 305.44,545.6 305.93,545.6 306.41,545.6 306.9,545.6 307.39,545.6 307.88,545.6 308.36,545.6 308.85,545.6 309.34,545.6 309.83,545.6 310.31,545.6 310.8,545.6 311.29,545.6 311.77,545.6 312.26,545.6 312.75,545.6 313.24,545.6 313.73,545.6 314.21,545.6 314.7,545.6 315.19,545.6 315.68,545.6 316.16,545.6 316.65,545.6 317.14,545.6 317.62,545.6 318.11,545.6 318.6,545.6 319.09,545.6 319.57,545.6 320.06,545.6 320.55,545.6 321.04,545.6 321.52,545.6 322.01,545.6 322.5,545.6 322.99,545.6 323.48,545.6 323.96,545.6 324.45,545.6 324.94,545.6 325.42,545.6 325.91,545.6 326.4,545.6 326.89,545.6 327.38,545.6 327.86,545.6 328.35,545.59 328.84,545.59 329.32,545.59 329.81,545.59 330.3,545.58 330.79,545.58 331.28,545.57 331.76,545.56 332.25,545.55 332.74,545.53 333.22,545.51 333.71,545.48 334.2,545.44 334.69,545.38 335.18,545.31 335.66,545.22 336.15,545.09 336.64,544.92 337.12,544.7 337.61,544.4 338.1,544.01 338.59,543.5 339.08,542.82 339.56,541.92 340.05,540.76 340.54,539.24 341.02,537.3 341.51,534.82 342,531.7 342.49,527.84 342.98,523.17 343.46,517.65 343.95,511.32 344.44,504.3 344.93,496.79 345.41,489.08 345.9,481.46 346.39,474.25 346.88,467.67 347.36,461.88 347.85,456.92 348.34,452.8 348.82,449.45 349.31,446.77 349.8,444.65 350.29,443.01 350.77,441.73 351.26,440.76 351.75,440.01 352.24,439.45 352.72,439.02 353.21,438.69 353.7,438.45 354.19,438.26 354.67,438.12 355.16,438.02 355.65,437.94 356.14,437.88 356.62,437.84 357.11,437.8 357.6,437.78 358.09,437.76 358.58,437.74 359.06,437.73 359.55,437.73 360.04,437.72 360.53,437.72 361.01,437.71 361.5,437.71 361.99,437.71 362.48,437.71 362.96,437.71 363.45,437.7 363.94,437.7 364.43,437.7 364.91,437.7 365.4,437.7 365.89,437.7 366.38,437.7 366.86,437.7 367.35,437.7 367.84,437.7 368.32,437.7 368.81,437.7 369.3,437.7 369.79,437.7 370.27,437.7 370.76,437.7 371.25,437.7 371.74,437.7 372.23,437.7 372.71,437.7 373.2,437.7 373.69,437.7 374.17,437.7 374.66,437.7 375.15,437.7 375.64,437.7 376.12,437.7 376.61,437.7 377.1,437.7 377.59,437.7 378.08,437.7 378.56,437.7 379.05,437.7 379.54,437.7 380.03,437.7 380.51,437.7 381,437.7 381.49,437.7 381.97,437.7 382.46,437.7 382.95,437.7 383.44,437.7 383.92,437.7 384.41,437.7 384.9,437.7 385.39,437.7 385.88,437.7 386.36,437.7 386.85,437.7 387.34,437.7 387.83,437.7 388.31,437.7 388.8,437.7 389.29,437.7 389.77,437.7 390.26,437.7 390.75,437.7 391.24,437.7 391.73,437.7 392.21,437.7 392.7,437.7 393.19,437.7 393.68,437.7 394.16,437.7 394.65,437.7 395.14,437.7 395.62,437.7 396.11,437.7 396.6,437.7 397.09,437.7 397.57,437.7 398.06,437.7 398.55,437.7 399.04,437.7 399.52,437.7 400.01,437.7 400.5,437.7 400.99,437.7 401.47,437.7 401.96,437.7 402.45,437.7 402.94,437.7 403.42,437.7 403.91,437.7 404.4,437.7 404.89,437.7 405.38,437.7 405.86,437.7 406.35,437.7 406.84,437.7 407.33,437.7 407.81,437.7 408.3,437.7 408.79,437.7 409.28,437.7 409.76,437.7 410.25,437.7 410.74,437.7 411.23,437.7 411.71,437.7 412.2,437.7 412.69,437.7 413.18,437.7 413.66,437.7 414.15,437.7 414.64,437.7 415.12,437.7 415.61,437.7 416.1,437.7 416.59,437.7 417.07,437.7 417.56,437.7 418.05,437.7 418.54,437.7 419.02,437.7 419.51,437.7 420,437.7 420.49,437.7 420.98,437.7 421.46,437.7 421.95,437.7 422.44,437.7 422.92,437.7 423.41,437.7 423.9,437.7 424.39,437.7 424.88,437.7 425.36,437.7 425.85,437.7 426.34,437.7 426.83,437.7 427.31,437.7 427.8,437.7 428.29,437.7 428.77,437.7 429.26,437.7 429.75,437.7 430.24,437.7 430.73,437.7 431.21,437.7 431.7,437.7 432.19,437.7 432.67,437.7 433.16,437.7 433.65,437.7 434.14,437.7 434.62,437.7 435.11,437.7 435.6,437.7 436.09,437.7 436.58,437.7 437.06,437.7 437.55,437.7 438.04,437.7 438.52,437.7 439.01,437.7 439.5,437.7 439.99,437.7 440.48,437.7 440.96,437.7 441.45,437.7 441.94,437.7 442.43,437.7 442.91,437.7 443.4,437.7 443.89,437.7 444.38,437.7 444.86,437.7 445.35,437.7 445.84,437.7 446.32,437.7 446.81,437.7 447.3,437.7 447.79,437.7 448.27,437.7 448.76,437.7 449.25,437.7 449.74,437.7 450.22,437.7 450.71,437.7 451.2,437.7 451.69,437.7 452.18,437.7 452.66,437.7 453.15,437.7 453.64,437.7 454.12,437.7 454.61,437.7 455.1,437.7 455.59,437.7 456.07,437.7 456.56,437.7 457.05,437.7 457.54,437.7 458.03,437.7 458.51,437.7 459,437.7 459.49,437.7 459.98,437.7 460.46,437.7 460.95,437.7 461.44,437.7 461.93,437.7 462.41,437.7 462.9,437.7 463.39,437.7 463.88,437.7 464.36,437.7 464.85,437.7 465.34,437.7 465.82,437.7 466.31,437.7 466.8,437.7 467.29,437.7 467.77,437.7 468.26,437.7 468.75,437.7 469.24,437.7 469.73,437.7 470.21,437.7 470.7,437.7 471.19,437.7 471.67,437.7 472.16,437.7 472.65,437.7 473.14,437.7 473.62,437.7 474.11,437.7 474.6,437.7 475.09,437.7 475.57,437.7 476.06,437.7 476.55,437.7 477.04,437.7 477.52,437.7 478.01,437.7 478.5,437.7" fill="none" stroke="#3a3a3a" stroke-width="0.9"/>
<polyline points="283.5,545.17 283.99,545.15 284.47,545.14 284.96,545.13 285.45,545.11 285.94,545.1 286.43,545.09 286.91,545.07 287.4,545.06 287.89,545.04 288.38,545.02 288.86,545.01 289.35,544.99 289.84,544.97 290.33,544.95 290.81,544.94 291.3,544.92 291.79,544.9 292.27,544.88 292.76,544.86 293.25,544.83 293.74,544.81 294.23,544.79 294.71,544.77 295.2,544.74 295.69,544.72 296.18,544.69 296.66,544.67 297.15,544.64 297.64,544.61 298.12,544.59 298.61,544.56 299.1,544.53 299.59,544.5 300.07,544.46 300.56,544.43 301.05,544.4 301.54,544.36 302.03,544.33 302.51,544.29 303,544.25 303.49,544.22 303.98,544.18 304.46,544.14 304.95,544.09 305.44,544.05 305.93,544.01 306.41,543.96 306.9,543.92 307.39,543.87 307.88,543.82 308.36,543.77 308.85,543.72 309.34,543.66 309.83,543.61 310.31,543.55 310.8,543.49 311.29,543.43 311.77,543.37 312.26,543.31 312.75,543.24 313.24,543.18 313.73,543.11 314.21,543.04 314.7,542.97 315.19,542.89 315.68,542.82 316.16,542.74 316.65,542.66 317.14,542.57 317.62,542.49 318.11,542.4 318.6,542.31 319.09,542.22 319.57,542.13 320.06,542.03 320.55,541.93 321.04,541.83 321.52,541.72 322.01,541.61 322.5,541.5 322.99,541.39 323.48,541.27 323.96,541.15 324.45,541.03 324.94,540.9 325.42,540.77 325.91,540.64 326.4,540.5 326.89,540.36 327.38,540.22 327.86,540.07 328.35,539.92 328.84,539.77 329.32,539.61 329.81,539.44 330.3,539.28 330.79,539.1 331.28,538.93 331.76,538.75 332.25,538.56 332.74,538.37 333.22,538.18 333.71,537.98 334.2,537.77 334.69,537.56 335.18,537.35 335.66,537.13 336.15,536.91 336.64,536.68 337.12,536.44 337.61,536.2 338.1,535.95 338.59,535.7 339.08,535.44 339.56,535.17 340.05,534.9 340.54,534.62 341.02,534.34 341.51,534.05 342,533.75 342.49,533.45 342.98,533.14 343.46,532.82 343.95,532.5 344.44,532.16 344.93,531.83 345.41,531.48 345.9,531.13 346.39,530.77 346.88,530.4 347.36,530.02 347.85,529.64 348.34,529.25 348.82,528.85 349.31,528.44 349.8,528.03 350.29,527.6 350.77,527.17 351.26,526.73 351.75,526.28 352.24,525.83 352.72,525.36 353.21,524.89 353.7,524.41 354.19,523.92 354.67,523.43 355.16,522.92 355.65,522.41 356.14,521.88 356.62,521.35 357.11,520.81 357.6,520.26 358.09,519.71 358.58,519.14 359.06,518.57 359.55,517.99 360.04,517.4 360.53,516.8 361.01,516.2 361.5,515.59 361.99,514.97 362.48,514.34 362.96,513.7 363.45,513.06 363.94,512.41 364.43,511.75 364.91,511.09 365.4,510.42 365.89,509.74 366.38,509.05 366.86,508.36 367.35,507.67 367.84,506.96 368.32,506.25 368.81,505.54 369.3,504.82 369.79,504.1 370.27,503.37 370.76,502.63 371.25,501.9 371.74,501.16 372.23,500.41 372.71,499.66 373.2,498.91 373.69,498.16 374.17,497.4 374.66,496.64 375.15,495.88 375.64,495.12 376.12,494.35 376.61,493.59 377.1,492.82 377.59,492.05 378.08,491.29 378.56,490.52 379.05,489.75 379.54,488.99 380.03,488.23 380.51,487.46 381,486.7 381.49,485.94 381.97,485.19 382.46,484.43 382.95,483.68 383.44,482.94 383.92,482.19 384.41,481.45 384.9,480.72 385.39,479.98 385.88,479.26 386.36,478.53 386.85,477.82 387.34,477.11 387.83,476.4 388.31,475.7 388.8,475 389.29,474.31 389.77,473.63 390.26,472.96 390.75,472.29 391.24,471.62 391.73,470.97 392.21,470.32 392.7,469.68 393.19,469.05 393.68,468.42 394.16,467.8 394.65,467.19 395.14,466.59 395.62,466 396.11,465.41 396.6,464.83 397.09,464.26 397.57,463.7 398.06,463.15 398.55,462.6 399.04,462.07 399.52,461.54 400.01,461.02 400.5,460.51 400.99,460 401.47,459.51 401.96,459.02 402.45,458.55 402.94,458.08 403.42,457.61 403.91,457.16 404.4,456.72 404.89,456.28 405.38,455.85 405.86,455.43 406.35,455.02 406.84,454.61 407.33,454.22 407.81,453.83 408.3,453.45 408.79,453.08 409.28,452.71 409.76,452.35 410.25,452 410.74,451.66 411.23,451.32 411.71,450.99 412.2,450.67 412.69,450.35 413.18,450.05 413.66,449.74 414.15,449.45 414.64,449.16 415.12,448.88 415.61,448.6 416.1,448.33 416.59,448.07 417.07,447.81 417.56,447.56 418.05,447.32 418.54,447.08 419.02,446.84 419.51,446.61 420,446.39 420.49,446.17 420.98,445.96 421.46,445.75 421.95,445.55 422.44,445.35 422.92,445.16 423.41,444.97 423.9,444.79 424.39,444.61 424.88,444.43 425.36,444.26 425.85,444.1 426.34,443.94 426.83,443.78 427.31,443.62 427.8,443.47 428.29,443.33 428.77,443.19 429.26,443.05 429.75,442.91 430.24,442.78 430.73,442.65 431.21,442.53 431.7,442.4 432.19,442.28 432.67,442.17 433.16,442.06 433.65,441.95 434.14,441.84 434.62,441.73 435.11,441.63 435.6,441.53 436.09,441.44 436.58,441.34 437.06,441.25 437.55,441.16 438.04,441.08 438.52,440.99 439.01,440.91 439.5,440.83 439.99,440.75 440.48,440.68 440.96,440.61 441.45,440.53 441.94,440.46 442.43,440.4 442.91,440.33 443.4,440.27 443.89,440.2 444.38,440.14 444.86,440.08 445.35,440.03 445.84,439.97 446.32,439.92 446.81,439.86 447.3,439.81 447.79,439.76 448.27,439.71 448.76,439.66 449.25,439.62 449.74,439.57 450.22,439.53 450.71,439.49 451.2,439.45 451.69,439.41 452.18,439.37 452.66,439.33 453.15,439.29 453.64,439.26 454.12,439.22 454.61,439.19 455.1,439.15 455.59,439.12 456.07,439.09 456.56,439.06 457.05,439.03 457.54,439 458.03,438.97 458.51,438.95 459,438.92 459.49,438.89 459.98,438.87 460.46,438.84 460.95,438.82 461.44,438.8 461.93,438.78 462.41,438.75 462.9,438.73 463.39,438.71 463.88,438.69 464.36,438.67 464.85,438.65 465.34,438.64 465.82,438.62 466.31,438.6 466.8,438.58 467.29,438.57 467.77,438.55 468.26,438.54 468.75,438.52 469.24,438.51 469.73,438.49 470.21,438.48 470.7,438.46 471.19,438.45 471.67,438.44 472.16,438.43 472.65,438.41 473.14,438.4 473.62,438.39 474.11,438.38 474.6,438.37 475.09,438.36 475.57,438.35 476.06,438.34 476.55,438.33 477.04,438.32 477.52,438.31 478.01,438.3 478.5,438.29" fill="none" stroke="#3a3a3a" stroke-width="0.9"/>
<line x1="283.5" y1="560.3" x2="283.5" y2="562.3" stroke="#808080" stroke-width="1.1"/>
<text transform="translate(283.5 574.2) scale(0.94 1.0)" font-size="8.5" text-anchor="middle" fill="#1a1a1a" stroke="#1a1a1a" stroke-width="0.12">7.0</text>
<line x1="316" y1="560.3" x2="316" y2="562.3" stroke="#808080" stroke-width="1.1"/>
<text transform="translate(316 574.2) scale(0.94 1.0)" font-size="8.5" text-anchor="middle" fill="#1a1a1a" stroke="#1a1a1a" stroke-width="0.12">6.5</text>
<line x1="348.5" y1="560.3" x2="348.5" y2="562.3" stroke="#808080" stroke-width="1.1"/>
<text transform="translate(348.5 574.2) scale(0.94 1.0)" font-size="8.5" text-anchor="middle" fill="#1a1a1a" stroke="#1a1a1a" stroke-width="0.12">6.0</text>
<line x1="381" y1="560.3" x2="381" y2="562.3" stroke="#808080" stroke-width="1.1"/>
<text transform="translate(381 574.2) scale(0.94 1.0)" font-size="8.5" text-anchor="middle" fill="#1a1a1a" stroke="#1a1a1a" stroke-width="0.12">5.5</text>
<line x1="413.5" y1="560.3" x2="413.5" y2="562.3" stroke="#808080" stroke-width="1.1"/>
<text transform="translate(413.5 574.2) scale(0.94 1.0)" font-size="8.5" text-anchor="middle" fill="#1a1a1a" stroke="#1a1a1a" stroke-width="0.12">5.0</text>
<line x1="446" y1="560.3" x2="446" y2="562.3" stroke="#808080" stroke-width="1.1"/>
<text transform="translate(446 574.2) scale(0.94 1.0)" font-size="8.5" text-anchor="middle" fill="#1a1a1a" stroke="#1a1a1a" stroke-width="0.12">4.5</text>
<line x1="478.5" y1="560.3" x2="478.5" y2="562.3" stroke="#808080" stroke-width="1.1"/>
<text transform="translate(478.5 574.2) scale(0.94 1.0)" font-size="8.5" text-anchor="middle" fill="#1a1a1a" stroke="#1a1a1a" stroke-width="0.12">4.0</text>
<line x1="268.9" y1="545.6" x2="270.5" y2="545.6" stroke="#808080" stroke-width="1.1"/>
<text transform="translate(264 548.14) scale(0.94 1.0)" font-size="8.5" text-anchor="end" fill="#1a1a1a" stroke="#1a1a1a" stroke-width="0.12">0.1</text>
<line x1="268.9" y1="516.2" x2="270.5" y2="516.2" stroke="#808080" stroke-width="1.1"/>
<text transform="translate(264 518.74) scale(0.94 1.0)" font-size="8.5" text-anchor="end" fill="#1a1a1a" stroke="#1a1a1a" stroke-width="0.12">0.2</text>
<line x1="268.9" y1="486.8" x2="270.5" y2="486.8" stroke="#808080" stroke-width="1.1"/>
<text transform="translate(264 489.34) scale(0.94 1.0)" font-size="8.5" text-anchor="end" fill="#1a1a1a" stroke="#1a1a1a" stroke-width="0.12">0.3</text>
<line x1="268.9" y1="457.4" x2="270.5" y2="457.4" stroke="#808080" stroke-width="1.1"/>
<text transform="translate(264 459.94) scale(0.94 1.0)" font-size="8.5" text-anchor="end" fill="#1a1a1a" stroke="#1a1a1a" stroke-width="0.12">0.4</text>
<line x1="268.9" y1="428" x2="270.5" y2="428" stroke="#808080" stroke-width="1.1"/>
<text transform="translate(264 430.54) scale(0.94 1.0)" font-size="8.5" text-anchor="end" fill="#1a1a1a" stroke="#1a1a1a" stroke-width="0.12">0.5</text>
<text transform="translate(381 588.1)" font-size="10" text-anchor="middle" fill="#111" stroke="#111" stroke-width="0.05">pCa</text>
<text transform="translate(240.9 486.8) rotate(-90)" font-size="10" text-anchor="middle" fill="#111" stroke="#111" stroke-width="0.05">Critical concentration (&#956;M)</text>
<text transform="translate(277.1 431.6)" font-size="12" font-weight="bold" fill="#000">H</text>
<rect x="392.5" y="521.5" width="91.5" height="32.8" fill="#fff" stroke="#808080" stroke-width="1.1"/>
<circle cx="400.9" cy="532.7" r="2.85" fill="#fff" stroke="#222" stroke-width="0.8"/>
<rect x="398.2" y="542.7" width="5.4" height="5.4" fill="#fff" stroke="#222" stroke-width="0.8"/>
<text x="414.8" y="535.6" font-size="8.2" fill="#111" stroke="#111" stroke-width="0.1">GSNL-1(WT)</text>
<text x="414.8" y="548.3" font-size="8.2" fill="#111" stroke="#111" stroke-width="0.1">GSNL-1(D162N)</text>
</svg>
</body></html>
